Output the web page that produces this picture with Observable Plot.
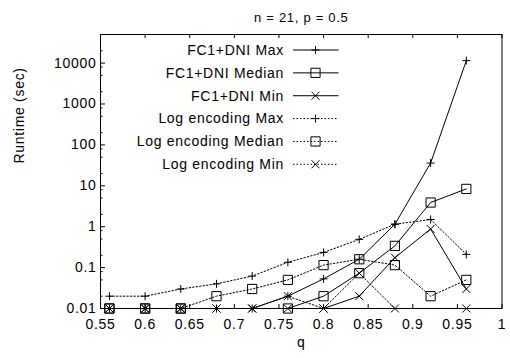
<!DOCTYPE html>
<html><head><meta charset="utf-8">
<script src="https://cdn.jsdelivr.net/npm/d3@7"></script>
<script src="https://cdn.jsdelivr.net/npm/@observablehq/plot@0.6"></script>
<style>body{margin:0;background:#fff;} svg{display:block}</style>
</head><body><div id="chart"></div>
<script>
// ---- data ----
const q = [0.56, 0.60, 0.64, 0.68, 0.72, 0.76, 0.80, 0.84, 0.88, 0.92, 0.96];
const fc1Max    = [0.01, 0.01, 0.01, 0.01, 0.01, 0.02, 0.053, 0.16, 1.15, 36, 11500];
const fc1Median = [0.01, 0.01, 0.01, null, null, 0.01, 0.02, 0.073, 0.34, 3.9, 8.4];
const fc1Min    = [0.01, 0.01, 0.01, 0.01, 0.01, 0.01, 0.01, 0.02, 0.175, 0.88, 0.03];
const logMax    = [0.02, 0.02, 0.03, 0.04, 0.062, 0.135, 0.235, 0.49, 1.15, 1.5, 0.21];
const logMedian = [0.01, 0.01, 0.01, 0.02, 0.03, 0.05, 0.115, 0.16, 0.115, 0.02, 0.05];
const logMin    = [0.01, 0.01, 0.01, 0.01, 0.01, 0.02, 0.01, 0.073, 0.01, null, 0.01];
const seriesNames = ["FC1+DNI Max", "FC1+DNI Median", "FC1+DNI Min",
                     "Log encoding Max", "Log encoding Median", "Log encoding Min"];
const xTicks = [0.55, 0.6, 0.65, 0.7, 0.75, 0.8, 0.85, 0.9, 0.95, 1];
const yTicks = [0.01, 0.1, 1, 10, 100, 1000, 10000];
const yMinor = [0.02, 0.05, 0.08, 0.2, 0.5, 0.8, 2, 5, 8, 20, 50, 80, 200, 500, 800, 2000, 5000, 8000, 20000];
const title = "n = 21, p = 0.5";
const xLabel = "q";
const yLabel = "Runtime (sec)";

// ---- marker shapes ----
const plusSym = {draw(c) { c.moveTo(-4, 0); c.lineTo(4, 0); c.moveTo(0, -4); c.lineTo(0, 4); }};
const timesSym = {draw(c) { c.moveTo(-4, -4); c.lineTo(4, 4); c.moveTo(-4, 4); c.lineTo(4, -4); }};
const squareSym = {draw(c) { c.moveTo(-4.6, -4.6); c.lineTo(4.6, -4.6); c.lineTo(4.6, 4.6); c.lineTo(-4.6, 4.6); c.closePath(); }};

const allValues = [fc1Max, fc1Median, fc1Min, logMax, logMedian, logMin];
const kinds = ["max", "median", "min", "max", "median", "min"];
const encs = ["fc1", "fc1", "fc1", "log", "log", "log"];
const symFor = {max: plusSym, median: squareSym, min: timesSym};

const rows = [];
allValues.forEach((vals, i) => {
  vals.forEach((v, j) => rows.push({series: seriesNames[i], kind: kinds[i], enc: encs[i], q: q[j], v}));
});

const font = "'Liberation Sans', Arial, sans-serif";
const W = 510, H = 358;
const mL = 100, mR = 8.5, mT = 34, mB = 50;
const fw = W - mL - mR, fh = H - mT - mB;

const marks = [];
for (const enc of ["fc1", "log"]) {
  marks.push(Plot.line(rows.filter(d => d.enc === enc), {
    x: "q", y: "v", z: "series", stroke: "black", strokeWidth: 1,
    strokeDasharray: enc === "log" ? "1.5,2" : null
  }));
}
for (const kind of ["max", "median", "min"]) {
  marks.push(Plot.dot(rows.filter(d => d.kind === kind && d.v != null), {
    x: "q", y: "v", symbol: symFor[kind], fill: "none", stroke: "black", strokeWidth: 1, r: 4
  }));
}

const chart = Plot.plot({
  width: W, height: H,
  marginLeft: mL, marginRight: mR, marginTop: mT, marginBottom: mB,
  style: {fontFamily: font, fontSize: "14px", letterSpacing: "0.7px", color: "black", background: "white"},
  x: {domain: [0.55, 1], label: null},
  y: {type: "log", domain: [0.01, 50000], label: null},
  marks: [
    Plot.tickX(xTicks, {x: d => d, stroke: "black", insetTop: fh - 4}),
    Plot.tickX(xTicks, {x: d => d, stroke: "black", insetBottom: fh - 4}),
    Plot.tickY(yTicks, {y: d => d, stroke: "black", insetRight: fw - 5}),
    Plot.tickY(yMinor, {y: d => d, stroke: "black", insetRight: fw - 2.5}),
    Plot.axisX({ticks: xTicks, tickSize: 0, tickPadding: 10.5, tickFormat: d => String(d), label: null, fontSize: 14}),
    Plot.axisY({ticks: yTicks, tickSize: 0, tickPadding: 4, tickFormat: d => String(d), label: null, fontSize: 14}),
    ...marks,
    Plot.frame({stroke: "black"}),
    Plot.text([title], {text: d => d, frameAnchor: "top", dy: -22, fontSize: 13, letterSpacing: "0.4px"}),
    Plot.text([xLabel], {text: d => d, frameAnchor: "bottom", dy: 38, fontSize: 14}),
    Plot.text([yLabel], {text: d => d, frameAnchor: "left", rotate: -90, dx: -81, dy: -8, fontSize: 14})
  ]
});

// ---- legend ----
const svg = d3.select(chart);
const lg = svg.append("g").attr("font-family", font).attr("font-size", "14px");
seriesNames.forEach((name, i) => {
  const y = 50 + i * 22.86;
  lg.append("text").attr("x", 284).attr("y", y).attr("dy", "0.35em")
    .attr("text-anchor", "end").style("letter-spacing", "0.7px").attr("fill", "black").text(name);
  lg.append("line").attr("x1", 293).attr("x2", 338.5).attr("y1", y).attr("y2", y)
    .attr("stroke", "black").attr("stroke-width", 1)
    .attr("stroke-dasharray", encs[i] === "log" ? "1.5,2" : null);
  lg.append("path").attr("d", d3.symbol(symFor[kinds[i]], 64)())
    .attr("transform", `translate(315.5,${y})`).attr("fill", "none").attr("stroke", "black");
});

document.getElementById("chart").appendChild(chart);
</script>
</body></html>
